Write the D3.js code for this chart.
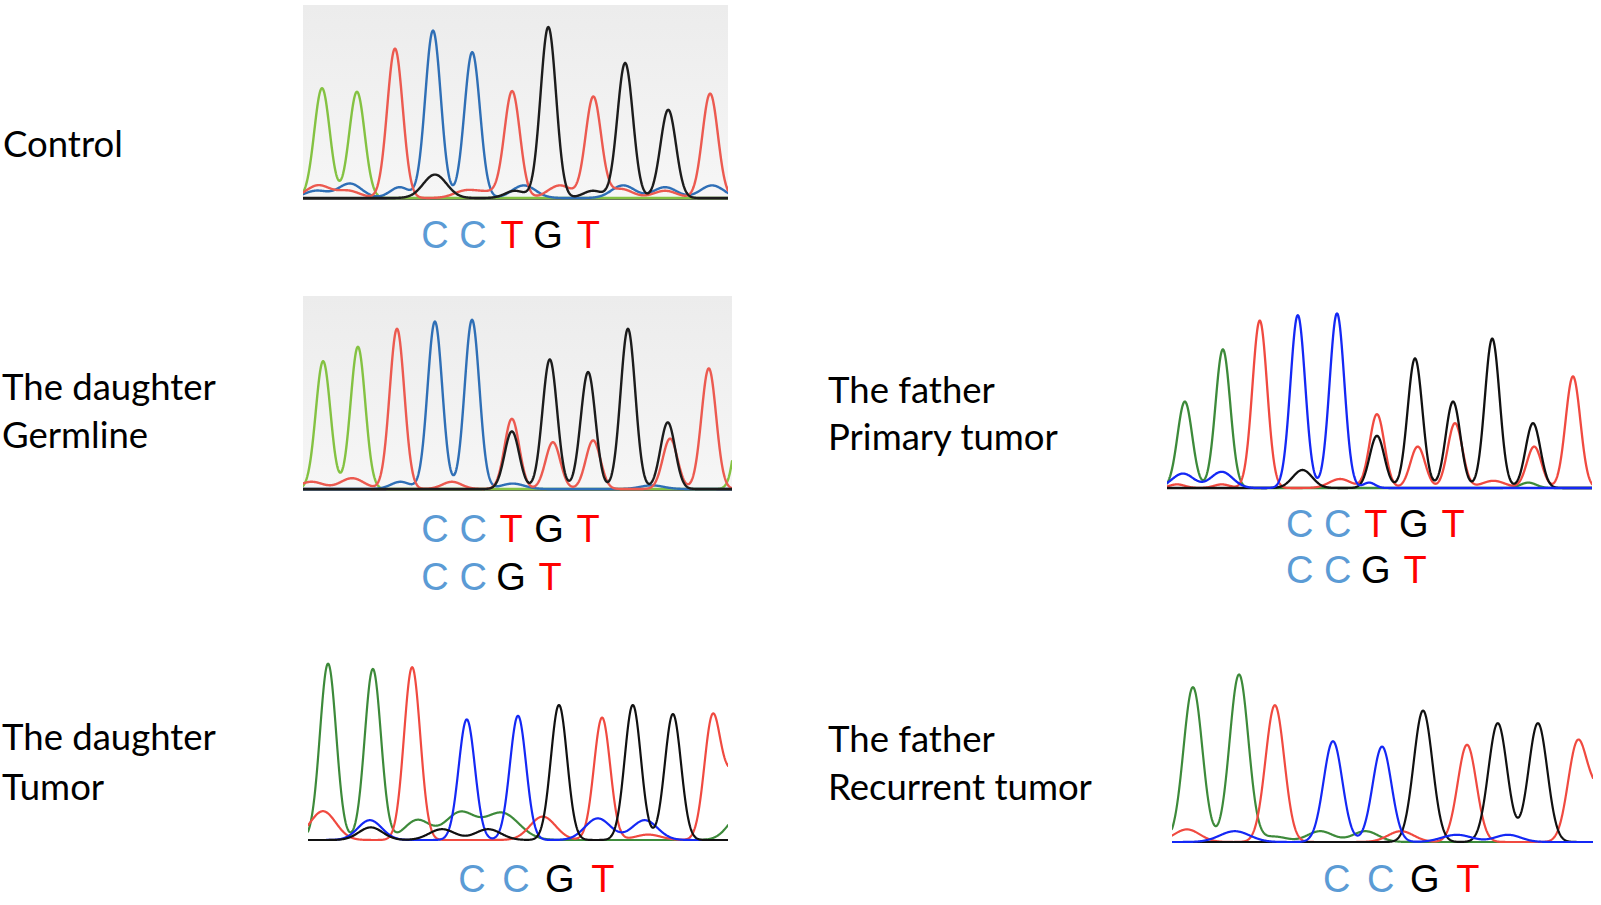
<!DOCTYPE html>
<html><head><meta charset="utf-8">
<script src="https://cdn.jsdelivr.net/npm/d3@7"></script>
<style>html,body{margin:0;background:#fff;} svg{display:block}</style>
</head><body>
<svg id="c" width="1601" height="905"></svg>
<script>
// ---------- DATA (peaks: [channel, base position, signal height (0-100), optional peak width]) ----------
const controlPeaks = [
  ['A',0,61],['A',0.9,59],['T',1.88,83],['C',2.86,93],['C',3.87,81],['T',4.9,59],['G',5.83,95],
  ['T',6.99,56],['G',7.81,75],['G',8.92,49],['T',10,58],
  ['T',-0.1,7,0.3],['C',-0.15,4,0.3],['C',0.72,8,0.3],['T',0.67,4,0.3],['C',2.0,6,0.25],['G',2.91,13,0.3],
  ['T',3.7,4,0.3],['T',4.3,3,0.3],['G',4.97,4,0.25],['C',5.2,7,0.3],['T',6.13,7,0.3],['G',6.98,4,0.25],
  ['C',7.76,7,0.3],['T',7.7,5,0.3],['C',8.84,6,0.3],['T',8.84,4,0.3],['C',10.05,7,0.3]
];
const germlinePeaks = [
  ['A',0,71],['A',0.9,79],['T',1.91,89],['C',2.89,93],['C',3.85,94],['T',4.88,39],['G',4.88,32],
  ['G',5.86,72],['T',5.94,26],['G',6.85,65],['T',6.98,27],['G',7.88,89],['G',8.91,37],['T',8.97,28],
  ['T',9.97,67],['A',10.9,70],
  ['T',-0.3,4,0.3],['T',0.75,6,0.3],['C',2.0,4,0.25],['T',3.33,4,0.25],['C',4.9,3,0.3],['C',8.5,2,0.3]
];
const fatherPrimaryPeaks = [
  ['A',0,48],['A',0.98,77],['T',1.93,93],['C',2.91,96],['C',3.92,97],['T',4.95,41],['G',4.95,29],
  ['G',5.93,72],['T',6.0,23],['G',6.91,48],['T',6.96,36],['G',7.92,83],['G',8.97,36],['T',9.0,23],['T',10.0,62],
  ['C',-0.05,8,0.28],['C',0.95,9,0.28],['G',3.03,10,0.25],['T',4.0,5,0.28],['C',4.75,3,0.15],
  ['T',7.95,4,0.3],['A',8.85,3,0.2],['T',0.95,2,0.2],['T',-0.2,2,0.2]
];
const daughterTumorPeaks = [
  ['A',0,98],['A',1.05,95],['T',1.97,96],['C',3.25,67],['C',4.45,69],['G',5.41,75],['T',6.42,68],
  ['G',7.14,75],['G',8.08,70],['T',9.0,65],['T',9.5,36,0.25],
  ['T',-0.12,16,0.3],['C',0.98,11,0.28],['G',1.0,7,0.28],['A',2.09,11,0.3],['G',2.67,6,0.3],
  ['A',3.09,15,0.35],['G',3.75,6,0.3],['A',4.07,15,0.4],['T',5.03,13,0.3],['C',6.32,12,0.3],
  ['C',7.42,11,0.3],['T',7.5,3,0.3],['A',9.7,15,0.3]
];
const fatherRecurrentPeaks = [
  ['A',0,86],['A',1.08,93],['T',1.92,76],['C',3.28,56],['C',4.43,53],['G',5.39,73],['T',6.42,54],
  ['G',7.14,66],['G',8.08,66],['T',9.0,53],['T',9.5,26,0.25],
  ['T',-0.14,7,0.3],['C',0.98,6,0.35],['A',1.9,3,0.3],['A',2.98,6,0.3],['A',4.04,6,0.3],
  ['T',4.87,6,0.3],['C',6.18,4,0.35],['C',7.38,4,0.3]
];
// base calls under each trace: [letter, base position]
const controlCalls = [['C',2.91],['C',3.89],['T',4.9],['G',5.82],['T',6.86]];
const germlineCalls1 = [['C',2.89],['C',3.88],['T',4.86],['G',5.84],['T',6.85]];
const germlineCalls2 = [['C',2.89],['C',3.88],['G',4.86],['T',5.87]];
const primaryCalls1 = [['C',2.96],['C',3.94],['T',4.92],['G',5.9],['T',6.91]];
const primaryCalls2 = [['C',2.96],['C',3.94],['G',4.92],['T',5.93]];
const tumorCalls = [['C',3.37],['C',4.4],['G',5.43],['T',6.44]];
const recurrentCalls = [['C',3.37],['C',4.4],['G',5.43],['T',6.44]];
// sample labels
const controlLabel = ['Control'];
const germlineLabel = ['The daughter','Germline'];
const primaryLabel = ['The father','Primary tumor'];
const tumorLabel = ['The daughter','Tumor'];
const recurrentLabel = ['The father','Recurrent tumor'];

// ---------- STYLES / LAYOUT ----------
const palettes = {
  light: {A:'#84c242', C:'#2f6fb6', G:'#1c1c1c', T:'#ec5a50'},
  dark:  {A:'#3d8a3a', C:'#1428f5', G:'#111111', T:'#f04a40'}
};
const callColor = {C:'#5b9bd5', T:'#ff0000', G:'#000000', A:'#00a000'};

const panels = [
  {peaks:controlPeaks, calls:[controlCalls], callY:[248], x0:303, x1:728, base:198, bgTop:5,
   domain:[-0.49,10.46], sigma:0.2, pal:'light', order:['A','C','T','G'], bg:true, axis:true, lw:2.4,
   label:controlLabel, lx:3, ly:[157]},
  {peaks:germlinePeaks, calls:[germlineCalls1,germlineCalls2], callY:[542,590], x0:303, x1:732, base:489, bgTop:296,
   domain:[-0.52,10.57], sigma:0.19, pal:'light', order:['A','C','T','G'], bg:true, axis:true, lw:2.4,
   label:germlineLabel, lx:2, ly:[400,448]},
  {peaks:fatherPrimaryPeaks, calls:[primaryCalls1,primaryCalls2], callY:[537,583], x0:1167, x1:1592, base:488,
   domain:[-0.46,10.49], sigma:0.19, pal:'dark', order:['A','T','G','C'], bg:false, axis:false, lw:2.3,
   label:primaryLabel, lx:828, ly:[403,450]},
  {peaks:daughterTumorPeaks, calls:[tumorCalls], callY:[892], x0:308, x1:728, base:840,
   domain:[-0.47,9.37], sigma:0.19, pal:'dark', order:['A','T','C','G'], bg:false, axis:false, lw:2.2,
   label:tumorLabel, lx:2, ly:[750,800]},
  {peaks:fatherRecurrentPeaks, calls:[recurrentCalls], callY:[892], x0:1172, x1:1593, base:842,
   domain:[-0.49,9.37], sigma:0.22, pal:'dark', order:['A','T','G','C'], bg:false, axis:false, lw:2.2,
   label:recurrentLabel, lx:828, ly:[752,800]}
];
const plotH = 180;

const svg = d3.select('#c');
const defs = svg.append('defs');
const grad = defs.append('linearGradient').attr('id','bgGrad').attr('x1',0).attr('y1',0).attr('x2',0).attr('y2',1);
grad.append('stop').attr('offset','0%').attr('stop-color','#ececec');
grad.append('stop').attr('offset','100%').attr('stop-color','#f6f6f6');

// label font sizing
const labelFont = "Lato, 'Open Sans', sans-serif";
const probe = svg.append('text').attr('font-family', labelFont).attr('font-size', 100).text('The daughter');
const labelSize = 100 * 214 / probe.node().getComputedTextLength();
probe.remove();

panels.forEach((p, i) => {
  const x = d3.scaleLinear().domain(p.domain).range([p.x0, p.x1]);
  const y = d3.scaleLinear().domain([0, 100]).range([p.base, p.base - plotH]);
  const g = svg.append('g');
  const clipId = 'clip' + i;
  defs.append('clipPath').attr('id', clipId).append('rect')
    .attr('x', p.x0).attr('y', p.base - plotH - 30).attr('width', p.x1 - p.x0).attr('height', plotH + 34);

  if (p.bg) {
    g.append('rect').attr('x', p.x0).attr('y', p.bgTop).attr('width', p.x1 - p.x0)
      .attr('height', p.base - p.bgTop).attr('fill', 'url(#bgGrad)');
  }
  if (p.axis) {
    g.append('line').attr('x1', p.x0).attr('x2', p.x1).attr('y1', p.base + 0.5).attr('y2', p.base + 0.5)
      .attr('stroke', '#2a2a2a').attr('stroke-width', 2.4);
  }
  const xs = d3.range(p.domain[0], p.domain[1] + 1e-9, 0.01);
  const line = d3.line().x(d => x(d[0])).y(d => y(d[1])).curve(d3.curveLinear);
  const tg = g.append('g').attr('clip-path', `url(#${clipId})`);
  p.order.forEach(ch => {
    const pk = p.peaks.filter(d => d[0] === ch);
    const pts = xs.map(t => {
      let s = 0;
      pk.forEach(d => { const w = d[3] || p.sigma; s += d[2] * Math.exp(-((t - d[1]) ** 2) / (2 * w * w)); });
      return [t, s];
    });
    tg.append('path').attr('d', line(pts)).attr('fill', 'none')
      .attr('stroke', palettes[p.pal][ch]).attr('stroke-width', p.lw)
      .attr('stroke-linejoin', 'round').attr('stroke-linecap', 'round');
  });

  // base calls
  p.calls.forEach((row, r) => {
    g.selectAll(null).data(row).enter().append('text')
      .attr('x', d => x(d[1])).attr('y', p.callY[r])
      .attr('text-anchor', 'middle')
      .attr('font-family', "'Liberation Sans', Arial, sans-serif")
      .attr('font-size', 38)
      .attr('fill', d => callColor[d[0]])
      .text(d => d[0]);
  });

  // sample label
  g.selectAll(null).data(p.label).enter().append('text')
    .attr('x', p.lx).attr('y', (d, k) => p.ly[k])
    .attr('font-family', labelFont).attr('font-size', labelSize).attr('fill', '#000')
    .text(d => d);
});
</script>
</body></html>
